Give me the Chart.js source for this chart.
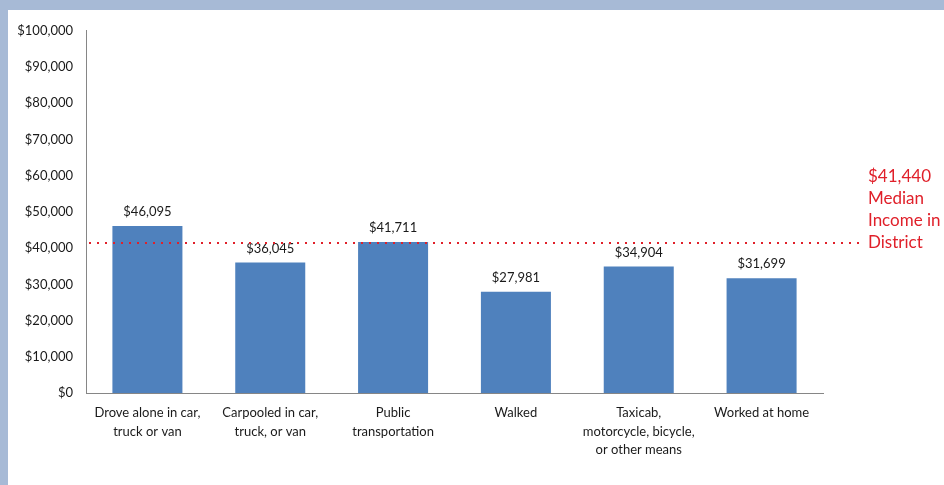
<!DOCTYPE html>
<html>
<head>
<meta charset="utf-8">
<script src="https://cdn.jsdelivr.net/npm/chart.js@4"></script>
<style>
  html, body { margin: 0; padding: 0; }
  body { width: 944px; height: 485px; background: #a7bad6; position: relative; overflow: hidden; }
  #wrap { position: absolute; left: 8px; top: 10px; width: 936px; height: 475px; background: #fff; }
</style>
</head>
<body>
<div id="wrap"><canvas id="grafIngreso" width="936" height="475"></canvas></div>
<script>
// categorias (medio de transporte)
const categorias = [
    ['Drove alone in car,', 'truck or van'],
    ['Carpooled in car,', 'truck, or van'],
    ['Public', 'transportation'],
    'Walked',
    ['Taxicab,', 'motorcycle, bicycle,', 'or other means'],
    'Worked at home'
]
const ingresos = [46095, 36045, 41711, 27981, 34904, 31699]
const medianaDistrito = 41440
const textoMediana = ['$41,440', 'Median', 'Income in', 'District']
const ticksY = [0, 100000, 10000]   // min, max, paso

const dinero = v => '$' + Number(v).toLocaleString('en-US')

// etiquetas encima de las barras
const etiquetasBarras = {
    id: 'etiquetasBarras',
    afterDatasetsDraw(chart) {
        let ctx = chart.ctx
        let meta = chart.getDatasetMeta(0)
        ctx.save()
        ctx.font = '13px Lato'
        ctx.fillStyle = '#1a1a1a'
        ctx.textAlign = 'center'
        ctx.textBaseline = 'middle'
        meta.data.forEach((bar, i) => {
            ctx.fillText(dinero(ingresos[i]), bar.x, bar.y - 14)
        })
        ctx.restore()
    }
}

// linea punteada de la mediana + texto rojo
const lineaMediana = {
    id: 'lineaMediana',
    afterDraw(chart) {
        let ctx = chart.ctx
        let area = chart.chartArea
        let y = chart.scales.y.getPixelForValue(medianaDistrito)
        ctx.save()
        ctx.strokeStyle = '#e0202a'
        ctx.lineWidth = 2
        ctx.setLineDash([2, 6])
        ctx.beginPath()
        ctx.moveTo(area.left + 3, y)
        ctx.lineTo(area.right + 40, y)
        ctx.stroke()
        ctx.setLineDash([])
        ctx.font = '17px Lato'
        ctx.fillStyle = '#e0202a'
        ctx.textAlign = 'left'
        ctx.textBaseline = 'middle'
        let n = textoMediana.length
        textoMediana.forEach((t, i) => {
            ctx.fillText(t, area.right + 45, y - (n - 1 - i) * 22)
        })
        ctx.restore()
    }
}

let grafIngreso = new Chart(document.getElementById('grafIngreso'), {
    type: 'bar',
    data: {
        labels: categorias,
        datasets: [{
            data: ingresos,
            backgroundColor: '#4f81bd',
            barPercentage: 0.57,
            categoryPercentage: 1
        }]
    },
    options: {
        responsive: false,
        devicePixelRatio: 1,
        animation: false,
        layout: { padding: { top: 19, right: 121, bottom: 0, left: 0 } },
        plugins: { legend: { display: false }, tooltip: { enabled: false } },
        scales: {
            x: {
                grid: { display: false, drawTicks: false },
                border: { color: '#868686', width: 1 },
                ticks: {
                    color: '#1a1a1a',
                    font: { family: 'Lato', size: 13, lineHeight: 1.42 },
                    padding: 11,
                    maxRotation: 0,
                    autoSkip: false
                },
                afterFit: s => { s.height = 92 }
            },
            y: {
                min: ticksY[0],
                max: ticksY[1],
                grid: { display: false, drawTicks: false },
                border: { color: '#868686', width: 1 },
                ticks: {
                    stepSize: ticksY[2],
                    color: '#1a1a1a',
                    font: { family: 'Lato', size: 13 },
                    padding: 13,
                    callback: v => dinero(v)
                },
                afterFit: s => { s.width = 78 }
            }
        }
    },
    plugins: [etiquetasBarras, lineaMediana]
})
</script>
</body>
</html>
